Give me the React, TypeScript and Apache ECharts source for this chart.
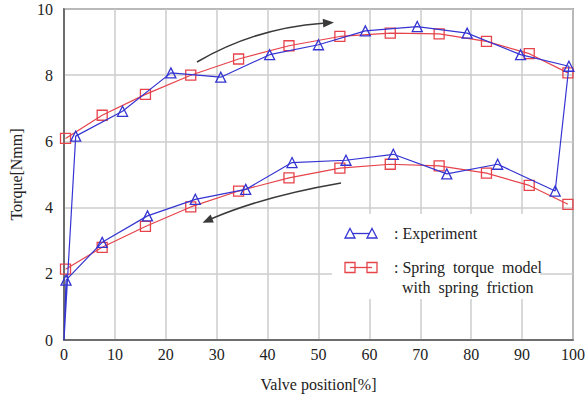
import React, { useEffect, useRef } from "react";
import * as echarts from "echarts";

const expX = [0, 2.3, 11.5, 21.0, 30.8, 40.4, 50.0, 59.2, 69.4, 79.2, 89.7, 99.2, 96.5, 85.2, 75.2, 64.7, 55.4, 44.8, 35.7, 25.8, 16.4, 7.5, 0.4, 0];
const expY = [0, 6.16, 6.91, 8.07, 7.94, 8.62, 8.92, 9.34, 9.47, 9.27, 8.62, 8.27, 4.5, 5.31, 5.02, 5.61, 5.43, 5.36, 4.55, 4.25, 3.75, 2.95, 1.81, 0];
const modelX = [0.3, 7.5, 16.0, 24.9, 34.3, 44.2, 54.2, 64.1, 73.7, 83.0, 91.4, 99.0];
const modelUpperY = [6.09, 6.79, 7.42, 8.0, 8.49, 8.89, 9.17, 9.27, 9.25, 9.02, 8.65, 8.07];
const modelLowerY = [2.14, 2.8, 3.43, 4.02, 4.5, 4.9, 5.19, 5.31, 5.26, 5.04, 4.67, 4.1];

const xTicks = [0, 10, 20, 30, 40, 50, 60, 70, 80, 90, 100];
const yTicks = [0, 2, 4, 6, 8, 10];

const BLUE = "#3434d2";
const RED = "#e6434b";
const FONT = "Liberation Serif";
const FS = 16;

export default function App() {
  const ref = useRef<HTMLDivElement>(null);
  useEffect(() => {
    if (!ref.current) return;
    const chart = echarts.init(ref.current, undefined, { renderer: "svg" });
    const expData = expX.map((x, i) => {
      const isOrigin = x === 0 && expY[i] === 0;
      return isOrigin ? { value: [x, expY[i]], symbol: "none" } : { value: [x, expY[i]] };
    });
    const upper = modelX.map((x, i) => [x, modelUpperY[i]]);
    const lower = modelX.map((x, i) => [x, modelLowerY[i]]);
    const arrowColor = "#3a3a3a";
    const txt = { fontFamily: FONT, fontSize: FS, color: "#222" };
    chart.setOption({
      animation: false,
      backgroundColor: "#ffffff",
      textStyle: { fontFamily: FONT },
      grid: {
        left: 61,
        right: 11,
        top: 9,
        bottom: 58,
        show: true,
        borderColor: "#555555",
        borderWidth: 1.5,
        backgroundColor: "transparent",
      },
      xAxis: {
        type: "value",
        min: xTicks[0],
        max: xTicks[xTicks.length - 1],
        interval: 10,
        name: "Valve position[%]",
        nameLocation: "middle",
        nameGap: 36,
        nameTextStyle: txt,
        axisLine: { show: true, lineStyle: { color: "#555555", width: 1.5 } },
        axisTick: { show: false },
        axisLabel: { ...txt, margin: 6 },
        splitLine: { show: true, lineStyle: { color: "#cccccc", width: 1.5 } },
      },
      yAxis: {
        type: "value",
        min: yTicks[0],
        max: yTicks[yTicks.length - 1],
        interval: 2,
        name: "Torque[Nmm]",
        nameLocation: "middle",
        nameGap: 40,
        nameRotate: 90,
        nameTextStyle: txt,
        axisLine: { show: true, lineStyle: { color: "#555555", width: 1.5 } },
        axisTick: { show: false },
        axisLabel: { ...txt, margin: 11 },
        splitLine: { show: true, lineStyle: { color: "#cccccc", width: 1.5 } },
      },
      series: [
        {
          name: "Spring torque model upper",
          type: "line",
          data: upper,
          symbol: "rect",
          symbolSize: 10,
          lineStyle: { color: RED, width: 1.2 },
          itemStyle: { color: "#ffffff00", borderColor: RED, borderWidth: 1.3 },
          z: 2,
        },
        {
          name: "Spring torque model lower",
          type: "line",
          data: lower,
          symbol: "rect",
          symbolSize: 10,
          lineStyle: { color: RED, width: 1.2 },
          itemStyle: { color: "#ffffff00", borderColor: RED, borderWidth: 1.3 },
          z: 2,
        },
        {
          name: "Experiment",
          type: "line",
          data: expData,
          symbol: "triangle",
          symbolSize: 10,
          lineStyle: { color: BLUE, width: 1.2 },
          itemStyle: { color: "#ffffff00", borderColor: BLUE, borderWidth: 1.3 },
          z: 3,
        },
      ],
      graphic: [
        { type: "bezierCurve", shape: { x1: 197, y1: 62, x2: 323, y2: 23.2, cpx1: 255, cpy1: 28 }, style: { stroke: arrowColor, lineWidth: 1.5, fill: null }, z: 10 },
        { type: "polygon", shape: { points: [[334, 22.4], [323.3, 27.4], [322.7, 18.8]] }, style: { fill: arrowColor }, z: 10 },
        { type: "bezierCurve", shape: { x1: 341, y1: 183, x2: 212, y2: 218.5, cpx1: 265, cpy1: 196 }, style: { stroke: arrowColor, lineWidth: 1.5, fill: null }, z: 10 },
        { type: "polygon", shape: { points: [[202.5, 222.7], [213.8, 222.6], [210.6, 214.6]] }, style: { fill: arrowColor }, z: 10 },
        { type: "rect", shape: { x: 332, y: 214, width: 208, height: 85 }, style: { fill: "#ffffff" }, z: 5 },
        { type: "line", shape: { x1: 350, y1: 233.5, x2: 372, y2: 233.5 }, style: { stroke: BLUE, lineWidth: 1.3 }, z: 11 },
        { type: "polygon", shape: { points: [[350, 228.5], [355, 238], [345, 238]] }, style: { fill: "#ffffff", stroke: BLUE, lineWidth: 1.3 }, z: 12 },
        { type: "polygon", shape: { points: [[372, 228.5], [377, 238], [367, 238]] }, style: { fill: "#ffffff", stroke: BLUE, lineWidth: 1.3 }, z: 12 },
        { type: "text", x: 394, y: 233.5, style: { text: ": Experiment", fontFamily: FONT, fontSize: FS, fill: "#222", verticalAlign: "middle" }, z: 12 },
        { type: "line", shape: { x1: 350, y1: 267.5, x2: 372, y2: 267.5 }, style: { stroke: RED, lineWidth: 1.3 }, z: 11 },
        { type: "rect", shape: { x: 345, y: 262.5, width: 10, height: 10 }, style: { fill: "#ffffff00", stroke: RED, lineWidth: 1.3 }, z: 12 },
        { type: "rect", shape: { x: 367, y: 262.5, width: 10, height: 10 }, style: { fill: "#ffffff00", stroke: RED, lineWidth: 1.3 }, z: 12 },
        { type: "text", x: 394, y: 267, style: { text: ": Spring  torque  model", fontFamily: FONT, fontSize: FS, fill: "#222", verticalAlign: "middle" }, z: 12 },
        { type: "text", x: 402, y: 287, style: { text: "with  spring  friction", fontFamily: FONT, fontSize: FS, fill: "#222", verticalAlign: "middle" }, z: 12 },
      ],
    });
    return () => chart.dispose();
  }, []);
  return (
    <div
      ref={ref}
      style={{ position: "fixed", left: 0, top: 0, width: 588, height: 398, background: "#fff" }}
    />
  );
}
